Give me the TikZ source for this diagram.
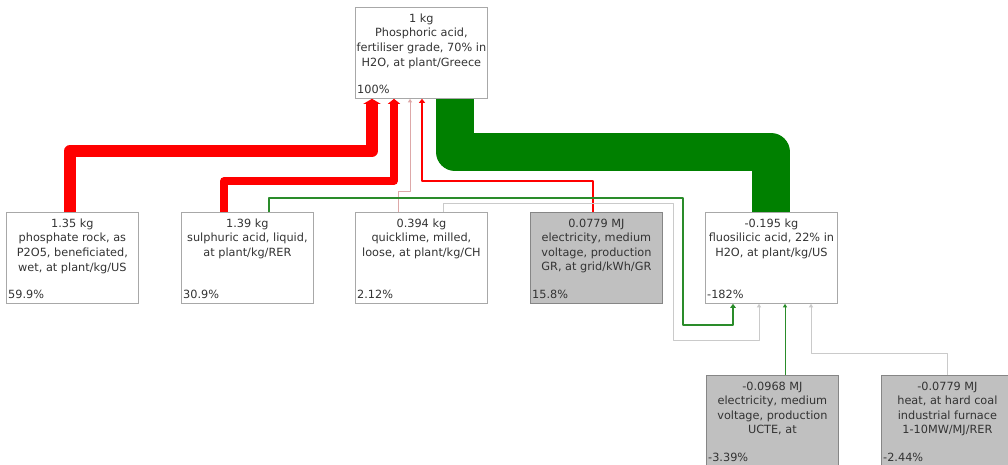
\documentclass[tikz,border=0pt]{standalone}
\usepackage{fontspec}
\setmainfont{DejaVu Sans}
\usetikzlibrary{arrows.meta}
\definecolor{bordergray}{HTML}{A8A8A8}
\definecolor{boxfill}{HTML}{C0C0C0}
\definecolor{txtcol}{HTML}{333333}
\definecolor{flowred}{HTML}{FF0000}
\definecolor{flowgreen}{HTML}{008000}
\definecolor{thingreen}{HTML}{2A8C2A}
\definecolor{lightgray}{HTML}{CACACA}
\definecolor{pinkline}{HTML}{DDA8A8}
\begin{document}
\begin{tikzpicture}[x=1pt,y=-1pt,
  box/.style={draw=bordergray, line width=0.8pt, fill=white, minimum width=132pt, minimum height=91pt, inner sep=0pt, anchor=north west},
  gbox/.style={box, fill=boxfill, draw=bordergray!80!black},
  txt/.style={font=\fontsize{11.3}{14.6}\selectfont, text=txtcol, align=center, inner sep=0pt, anchor=north},
  pct/.style={font=\fontsize{11.3}{14.6}\selectfont, text=txtcol, inner sep=0pt, anchor=base west},
  flow/.style={line join=round},
  redA/.style={flow, draw=flowred, line width=12pt, -{Triangle[length=5pt,width=17pt]}},
  redB/.style={flow, draw=flowred, line width=7.5pt, -{Triangle[length=5pt,width=12pt]}},
  redC/.style={flow, draw=flowred, line width=2.5pt, -{Triangle[length=4pt,width=6pt]}},
  pinkC/.style={flow, draw=pinkline, line width=0.9pt, -{Triangle[length=3.5pt,width=4pt]}},
  greenA/.style={flow, draw=flowgreen, line width=38pt},
  greenB/.style={flow, draw=thingreen, line width=2.2pt, -{Triangle[length=4pt,width=5.5pt]}},
  greenC/.style={flow, draw=thingreen, line width=1pt, -{Triangle[length=3.5pt,width=4pt]}},
  grayC/.style={flow, draw=lightgray, line width=1pt, -{Triangle[length=3.5pt,width=4pt]}},
]
\useasboundingbox (0,0) rectangle (1008,465);
\fill[white] (0,0) rectangle (1008,465);

% boxes
\node[box]  (top) at (355,7)   {};
\node[box]  (b1)  at (6,212)   {};
\node[box]  (b2)  at (181,212) {};
\node[box]  (b3)  at (355,212) {};
\node[gbox] (b4)  at (530,212) {};
\node[box]  (b5)  at (705,212) {};
\node[gbox] (b6)  at (706,375) {};
\node[gbox] (b7)  at (881,375) {};

% texts
\node[txt] (t0) at ([yshift=-6.5pt]top.north) {1 kg\\Phosphoric acid,\\fertiliser grade, 70\% in\\H2O, at plant/Greece};
\node[pct] (p0) at ([xshift=2pt,yshift=5.5pt]top.south west) {100\%};
\node[txt] (t1) at ([yshift=-6.5pt]b1.north) {1.35 kg\\phosphate rock, as\\P2O5, beneficiated,\\wet, at plant/kg/US};
\node[pct] (p1) at ([xshift=2pt,yshift=5.5pt]b1.south west) {59.9\%};
\node[txt] (t2) at ([yshift=-6.5pt]b2.north) {1.39 kg\\sulphuric acid, liquid,\\at plant/kg/RER};
\node[pct] (p2) at ([xshift=2pt,yshift=5.5pt]b2.south west) {30.9\%};
\node[txt] (t3) at ([yshift=-6.5pt]b3.north) {0.394 kg\\quicklime, milled,\\loose, at plant/kg/CH};
\node[pct] (p3) at ([xshift=2pt,yshift=5.5pt]b3.south west) {2.12\%};
\node[txt] (t4) at ([yshift=-6.5pt]b4.north) {0.0779 MJ\\electricity, medium\\voltage, production\\GR, at grid/kWh/GR};
\node[pct] (p4) at ([xshift=2pt,yshift=5.5pt]b4.south west) {15.8\%};
\node[txt] (t5) at ([yshift=-6.5pt]b5.north) {-0.195 kg\\fluosilicic acid, 22\% in\\H2O, at plant/kg/US};
\node[pct] (p5) at ([xshift=2pt,yshift=5.5pt]b5.south west) {-182\%};
\node[txt] (t6) at ([yshift=-6.5pt]b6.north) {-0.0968 MJ\\electricity, medium\\voltage, production\\UCTE, at};
\node[pct] (p6) at ([xshift=2pt,yshift=5.5pt]b6.south west) {-3.39\%};
\node[txt] (t7) at ([yshift=-6.5pt]b7.north) {-0.0779 MJ\\heat, at hard coal\\industrial furnace\\1-10MW/MJ/RER};
\node[pct] (p7) at ([xshift=2pt,yshift=5.5pt]b7.south west) {-2.44\%};

% connectors into the top box
\draw[greenA] ([xshift=66pt]b5.north west) coordinate (g5) -- (g5 |- 0,152) -| ([xshift=100pt]top.south west);
\draw[redA] ([xshift=64pt]b1.north west) coordinate (r1) -- (r1 |- 0,151) -| ([xshift=17pt]top.south west);
\draw[redB] ([xshift=43pt]b2.north west) coordinate (r2) -- (r2 |- 0,181) -| ([xshift=39pt]top.south west);
\draw[pinkC] ([xshift=43pt]b3.north west) coordinate (q3) -- (q3 |- 0,191) -| ([xshift=55pt]top.south west);
\draw[redC] ([xshift=63pt]b4.north west) coordinate (r4) -- (r4 |- 0,181) -| ([xshift=67pt]top.south west);

% connectors into the fluosilicic acid box
\draw[greenB] ([xshift=88pt]b2.north west) coordinate (g2) -- (g2 |- 0,198) -- (683,198) -- (683,325) -| ([xshift=28pt]b5.south west);
\draw[grayC] ([xshift=88pt]b3.north west) coordinate (k3) -- (k3 |- 0,203) -- (673,203) -- (673,340) -| ([xshift=54pt]b5.south west);
\draw[greenC] ([xshift=79pt]b6.north west) -- ([xshift=80pt]b5.south west);
\draw[grayC] ([xshift=66pt]b7.north west) coordinate (k7) -- (k7 |- 0,353) -| ([xshift=106pt]b5.south west);
\end{tikzpicture}
\end{document}
